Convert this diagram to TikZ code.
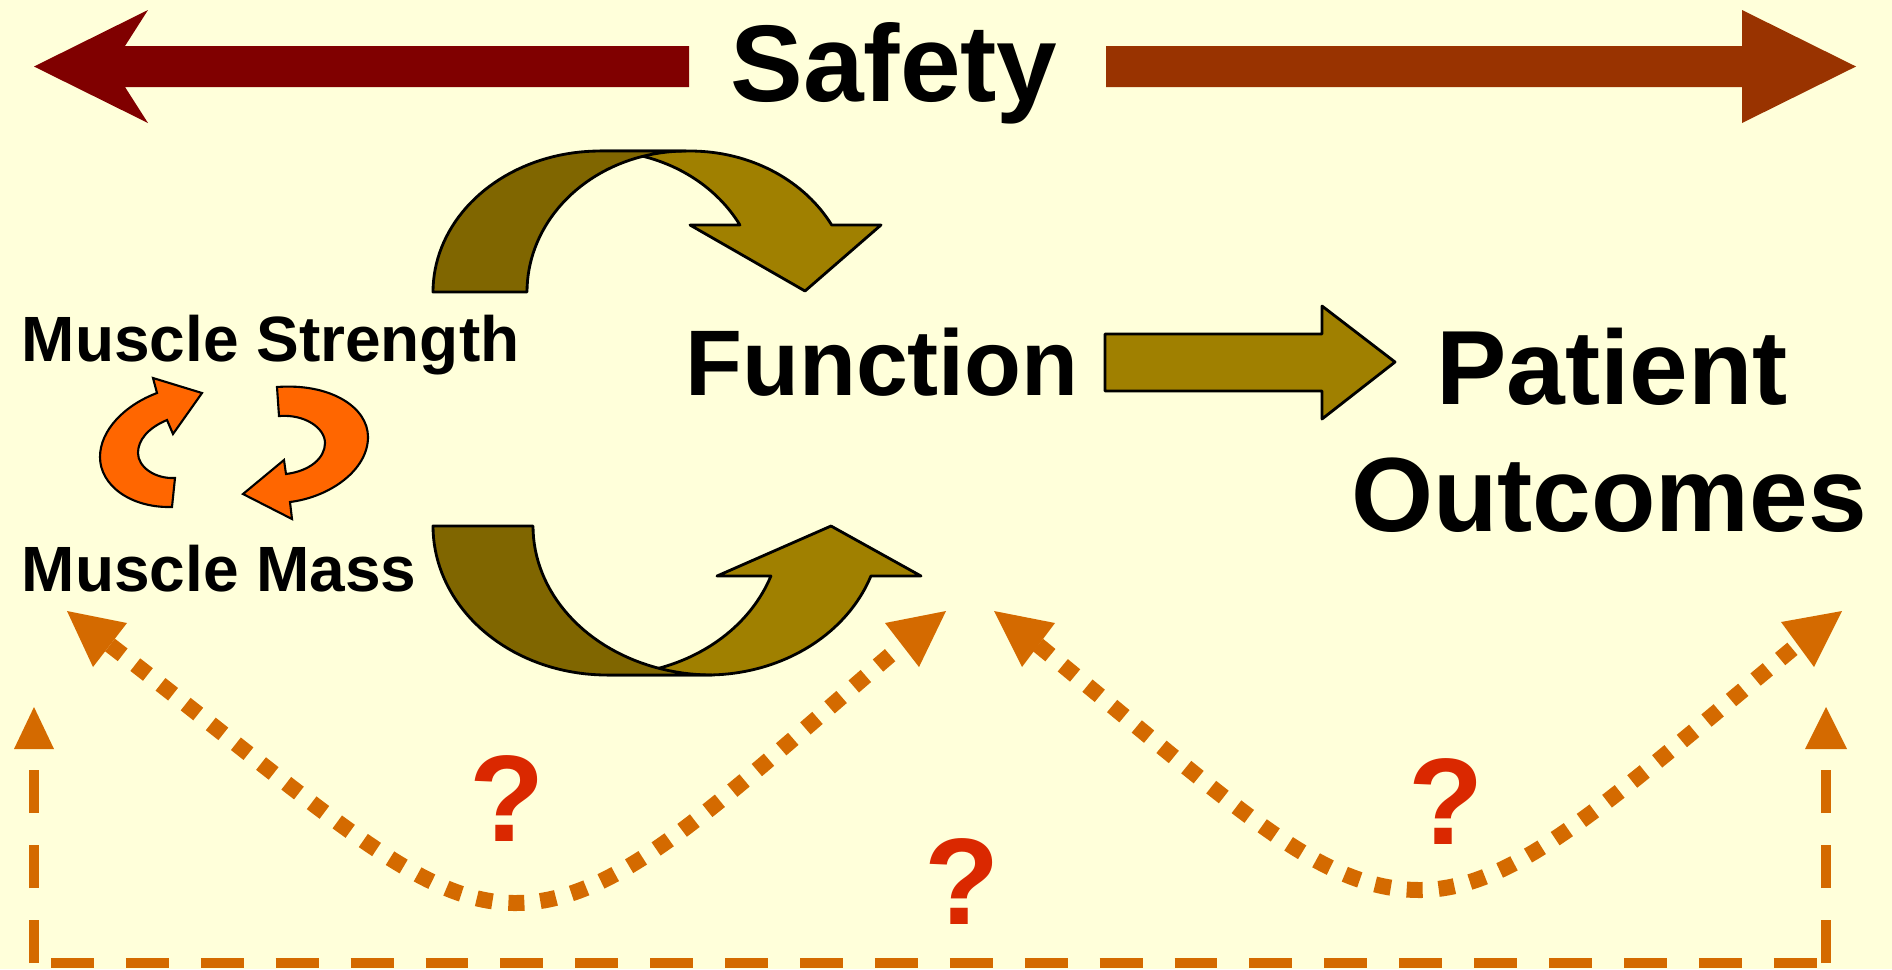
\documentclass[tikz,border=0pt]{standalone}
\usepackage{fontspec}
\setmainfont{Liberation Sans}
\definecolor{bg}{HTML}{FFFFDA}
\definecolor{safL}{HTML}{800000}
\definecolor{safR}{HTML}{993300}
\definecolor{oliveD}{HTML}{806600}
\definecolor{oliveL}{HTML}{A08000}
\definecolor{orng}{HTML}{FF6600}
\definecolor{dotc}{HTML}{D46A00}
\definecolor{qred}{HTML}{DA2800}
\tikzset{
  band/.style={draw=black, line width=0.8pt, line join=round},
  smallarr/.style={draw=black, fill=orng, line width=0.6pt, line join=miter},
  dotline/.style={draw=dotc, line width=4.55pt, dash pattern=on 4.55pt off 4.55pt},
  dashline/.style={draw=dotc, line width=3.1pt, dash pattern=on 12.2pt off 9.1pt},
  tri/.style={fill=dotc},
  bigtxt/.style={inner sep=0pt, font=\fontsize{30pt}{34pt}\selectfont\bfseries},
  midtxt/.style={inner sep=0pt, font=\fontsize{18.2pt}{22pt}\selectfont\bfseries},
  qm/.style={inner sep=0pt, text=qred, font=\fontsize{35pt}{40pt}\selectfont\bfseries}
}
\begin{document}
\begin{tikzpicture}[x=0.01cm, y=-0.01cm]
\useasboundingbox (0,0) rectangle (1892,969);
\fill[bg] (0,0) rectangle (1892,969);

% Safety arrows
\fill[safL] (34,66.5) -- (148,10) -- (125,46) -- (689,46) -- (689,87) -- (125,87) -- (148,123) -- cycle;
\fill[safR] (1106,46) -- (1742,46) -- (1742,10) -- (1856,66.5) -- (1742,123) -- (1742,87) -- (1106,87) -- cycle;
\node[inner sep=0pt, anchor=base, font=\fontsize{31pt}{36pt}\selectfont\bfseries] (safety) at (894,101) {Safety};

% top circular arrow
\filldraw[band, fill=oliveL] (600,151) -- (690,151)
  -- plot[domain=90:28.4, samples=40] ({690+161*cos(\x)},{292-141*sin(\x)})
  -- (881,225) -- (805,291) -- (690,225) -- (740,225)
  -- plot[domain=28.4:90, samples=40] ({600+159*cos(\x)},{292-141*sin(\x)}) -- cycle;
\filldraw[band, fill=oliveD] (433,292)
  -- plot[domain=180:90, samples=40] ({600+167*cos(\x)},{292-141*sin(\x)})
  -- (686,151)
  -- plot[domain=90:180, samples=40] ({686+159*cos(\x)},{292-141*sin(\x)}) -- cycle;

% bottom circular arrow
\filldraw[band, fill=oliveL] (607,675) -- (707,675)
  -- plot[domain=-90:-19.6, samples=40] ({707+174*cos(\x)},{526-149*sin(\x)})
  -- (921,576) -- (831,526) -- (717,576) -- (771,576)
  -- plot[domain=-19.6:-90, samples=40] ({607+174*cos(\x)},{526-149*sin(\x)}) -- cycle;
\filldraw[band, fill=oliveD] (433,526)
  -- plot[domain=180:270, samples=40] ({607+174*cos(\x)},{526-149*sin(\x)})
  -- (712,675)
  -- plot[domain=270:180, samples=40] ({712+179*cos(\x)},{526-149*sin(\x)}) -- cycle;

% Function arrow
\node[inner sep=0pt, anchor=base, font=\fontsize{26.5pt}{30pt}\selectfont\bfseries] (func) at (882,395) {Function};
\filldraw[band, fill=oliveL] (1105,334) -- (1322,334) -- (1322,306) -- (1395,362) -- (1322,419) -- (1322,391) -- (1105,391) -- cycle;

\node[bigtxt, anchor=base] (pat) at (1612,404) {Patient};
\node[bigtxt, anchor=base] (out) at (1609,531) {Outcomes};

\node[midtxt, anchor=base west] (ms) at (21,361) {Muscle Strength};
\node[midtxt, anchor=base west] (mm) at (21,591) {Muscle Mass};

% small orange arrows
\filldraw[smallarr] (172,507) .. controls (130,508) and (100,485) .. (100,457)
  .. controls (100,430) and (125,405) .. (157,393)
  -- (153,378) -- (202,393) -- (173,434) -- (167,420)
  .. controls (148,428) and (138,440) .. (138,453)
  .. controls (138,467) and (155,479) .. (175,478) -- cycle;
\filldraw[smallarr] (277,387) .. controls (330,383) and (368,407) .. (368,437)
  .. controls (368,470) and (330,497) .. (290,502)
  -- (292,519) -- (243,494) -- (284,460) -- (286,474)
  .. controls (310,471) and (325,458) .. (325,443)
  .. controls (325,428) and (305,414) .. (279,416) -- cycle;

% dotted U arrows
\coordinate (lu1) at (110,645);
\coordinate (lub) at (515,903);
\coordinate (lu2) at (902,645);
\coordinate (ru1) at (1038,645);
\coordinate (rub) at (1420,890);
\coordinate (ru2) at (1797,645);
\draw[dotline] (lu1) .. controls (330,815) and (420,903) .. (lub) .. controls (620,903) and (720,800) .. (lu2);
\draw[dotline] (ru1) .. controls (1240,810) and (1320,890) .. (rub) .. controls (1515,890) and (1610,800) .. (ru2);
\fill[tri] (67,611) -- (127,623) -- (93,667) -- cycle;
\fill[tri] (946,611) -- (885,623) -- (919,667) -- cycle;
\fill[tri] (994,611) -- (1055,623) -- (1022,667) -- cycle;
\fill[tri] (1842,611) -- (1781,622) -- (1814,667) -- cycle;

% dashed bracket
\coordinate (dl) at (34,749);
\coordinate (dr) at (1826,749);
\draw[dashline] (34,963) -- (dl);
\draw[dashline] (1826,963) -- (dr);
\draw[dashline] (51,963) -- (1819,963);
\fill[tri] (34,707) -- (14,749) -- (54,749) -- cycle;
\fill[tri] (1826,707) -- (1805,749) -- (1847,749) -- cycle;

% question marks
\node[qm, anchor=base] (q1) at (507,841) {?};
\node[qm, anchor=base] (q2) at (962,924) {?};
\node[qm, anchor=base] (q3) at (1446,844) {?};
\end{tikzpicture}
\end{document}
